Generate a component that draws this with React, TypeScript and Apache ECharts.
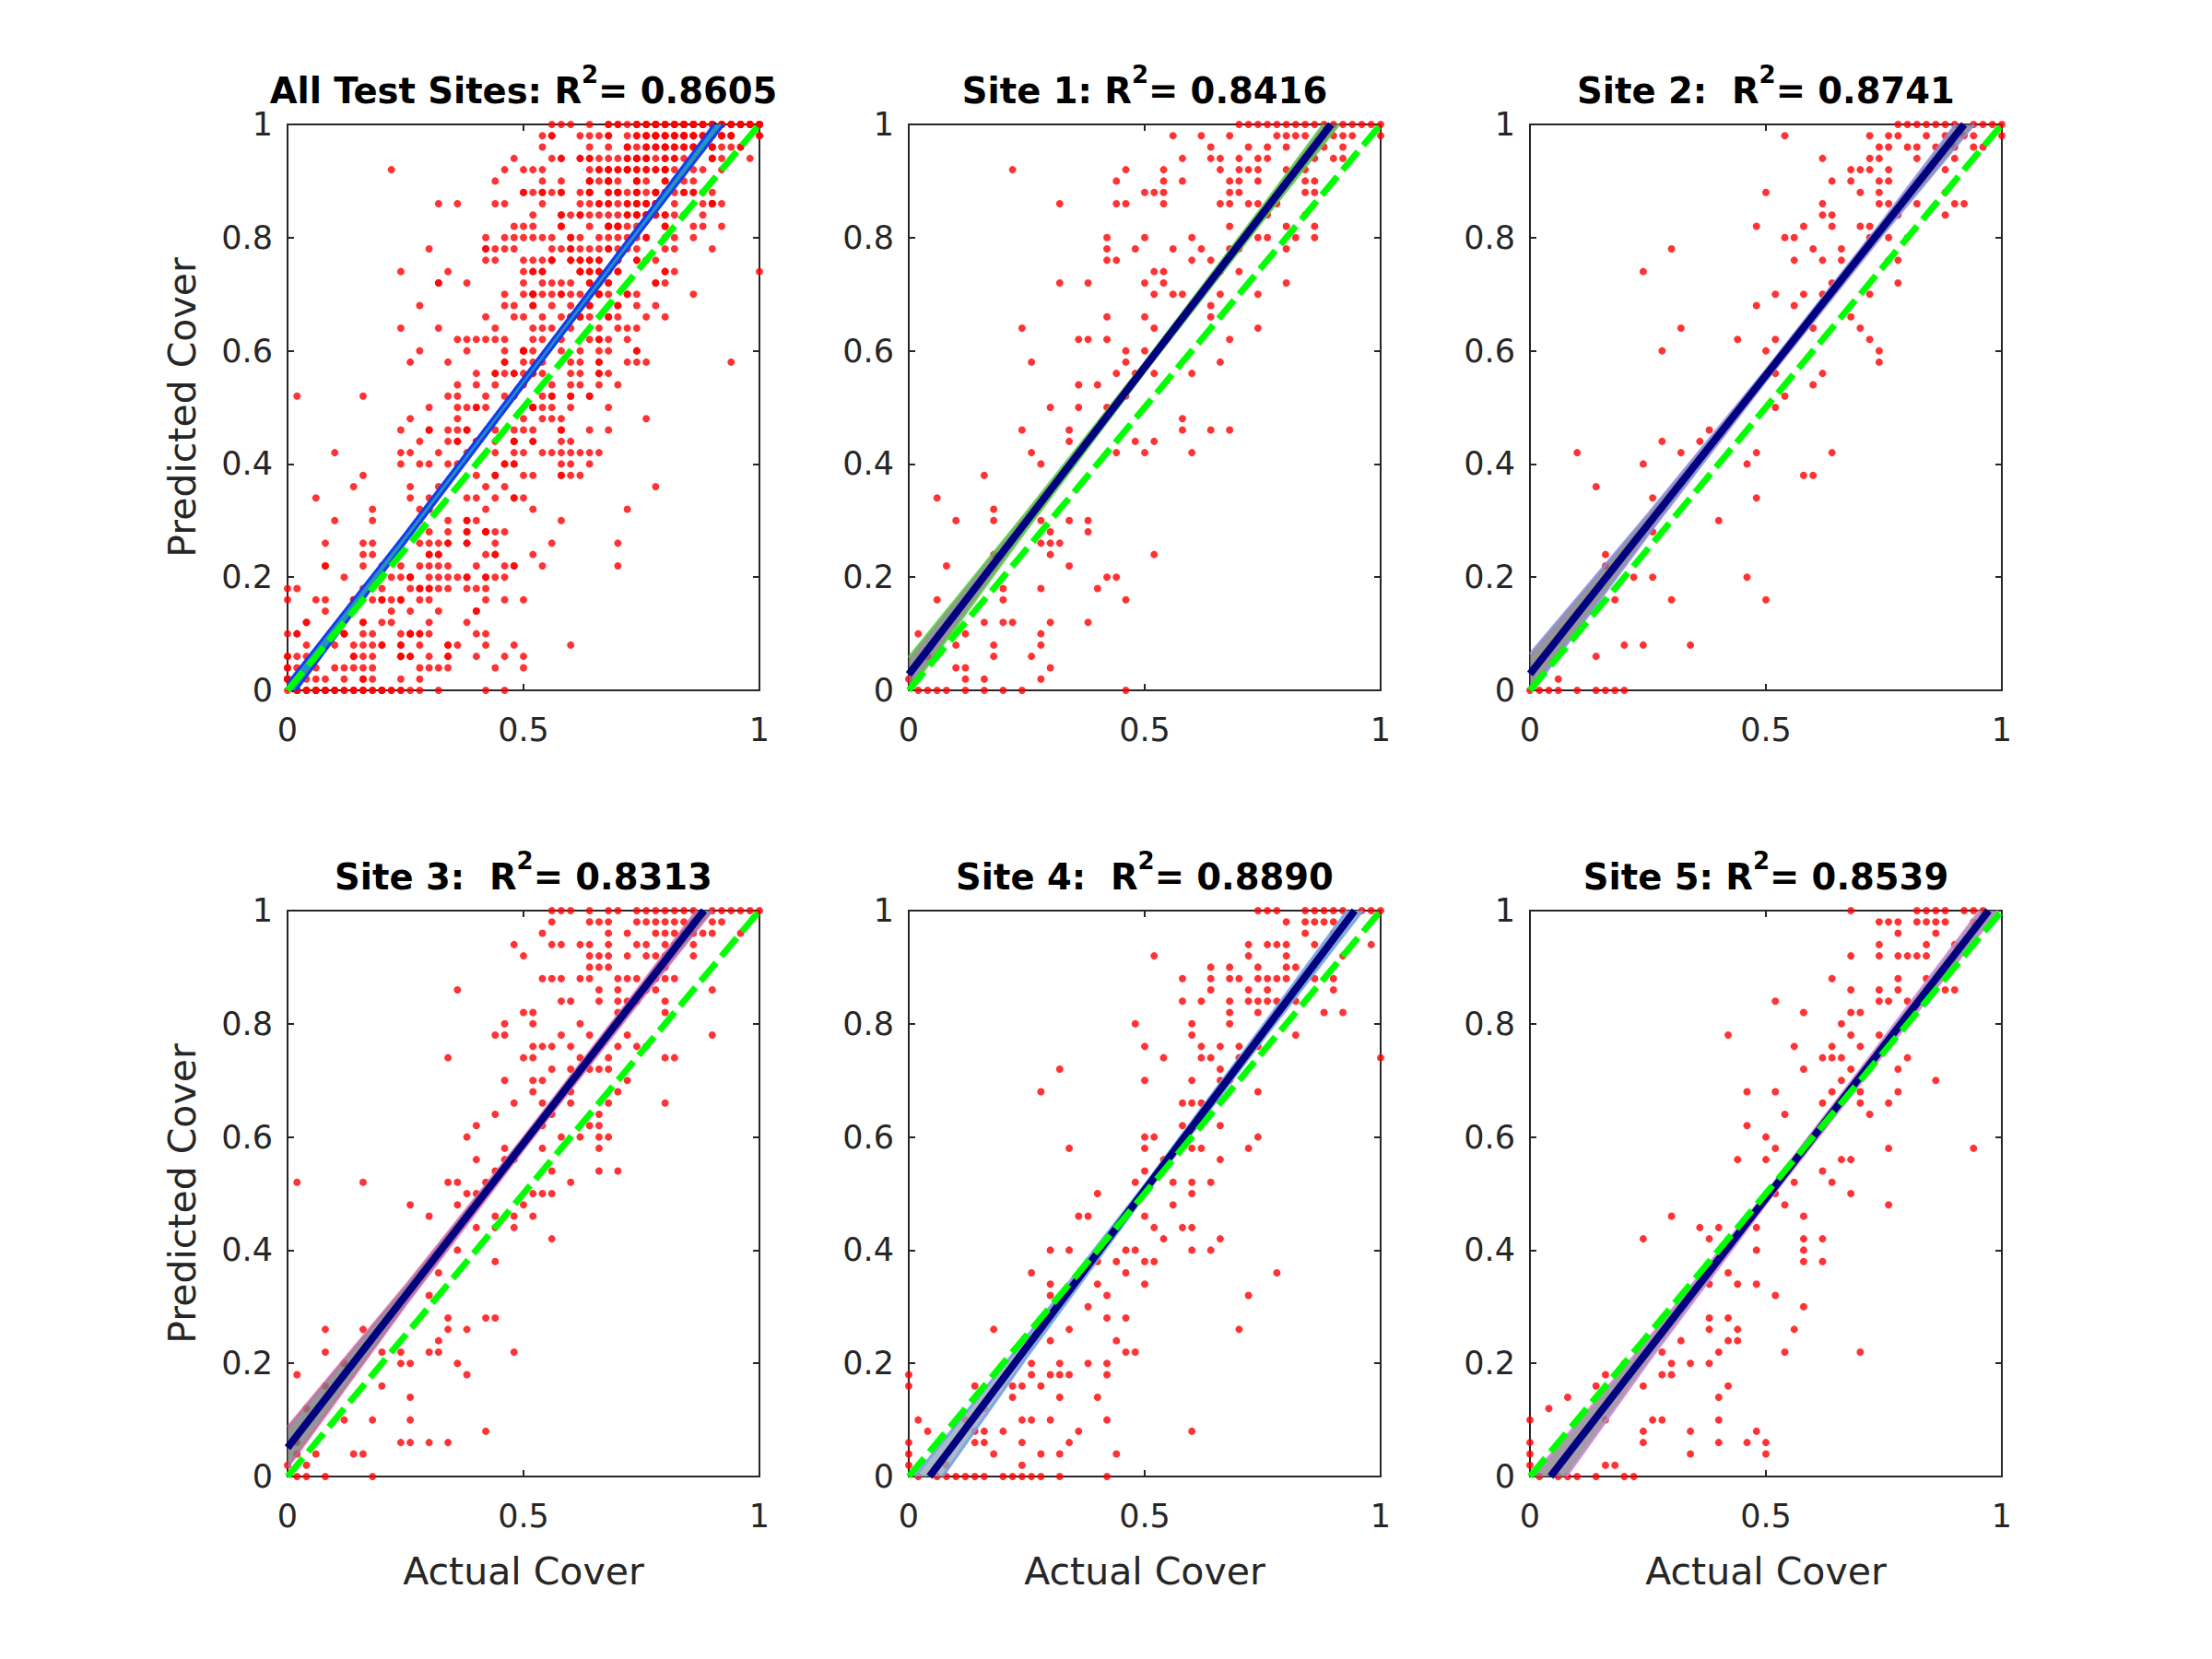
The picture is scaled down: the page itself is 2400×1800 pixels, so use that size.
import React, { useEffect, useRef } from "react";
import * as echarts from "echarts";

type Rows = [number, number[]][];

// ---- data (y value, list of x values on that row) ----
const site1Rows: Rows = [
  [1.0, [0.7, 0.72, 0.74, 0.76, 0.78, 0.8, 0.82, 0.84, 0.86, 0.88, 0.9, 0.92, 0.94, 0.96, 0.98, 1.0]],
  [0.98, [0.56, 0.62, 0.68, 0.78, 0.8, 0.82, 0.84, 0.9, 0.92, 0.94, 1.0]],
  [0.96, [0.64, 0.72, 0.76, 0.8, 0.88, 0.92]],
  [0.94, [0.58, 0.64, 0.66, 0.7, 0.74, 0.76, 0.86, 0.9, 0.92]],
  [0.92, [0.22, 0.46, 0.54, 0.66, 0.7, 0.72, 0.74, 0.8, 0.84]],
  [0.9, [0.44, 0.54, 0.58, 0.68, 0.7, 0.74, 0.84, 0.86]],
  [0.88, [0.5, 0.52, 0.54, 0.68, 0.7, 0.84, 0.86]],
  [0.86, [0.32, 0.44, 0.46, 0.54, 0.66, 0.68, 0.72, 0.74, 0.78]],
  [0.84, [0.76, 0.84]],
  [0.82, [0.68, 0.8, 0.86]],
  [0.8, [0.42, 0.5, 0.6, 0.74, 0.76, 0.82, 0.86]],
  [0.78, [0.42, 0.48, 0.56, 0.62, 0.68, 0.7, 0.8]],
  [0.76, [0.42, 0.44, 0.6, 0.64]],
  [0.74, [0.52, 0.54, 0.66, 0.7]],
  [0.72, [0.32, 0.38, 0.5, 0.54, 0.8]],
  [0.7, [0.52, 0.56, 0.58, 0.66, 0.74]],
  [0.68, [0.64]],
  [0.66, [0.42, 0.5, 0.64]],
  [0.64, [0.24, 0.52, 0.74]],
  [0.62, [0.36, 0.38, 0.42, 0.68]],
  [0.6, [0.46, 0.5]],
  [0.58, [0.26, 0.46, 0.66]],
  [0.56, [0.44, 0.48, 0.52, 0.6]],
  [0.54, [0.36, 0.4]],
  [0.52, [0.46]],
  [0.5, [0.3, 0.36, 0.42]],
  [0.48, [0.58]],
  [0.46, [0.24, 0.34, 0.58, 0.64, 0.68]],
  [0.44, [0.34, 0.48, 0.52]],
  [0.42, [0.26, 0.44, 0.5, 0.6]],
  [0.4, [0.28]],
  [0.38, [0.16]],
  [0.34, [0.06]],
  [0.32, [0.18]],
  [0.3, [0.1, 0.18, 0.28, 0.34, 0.38]],
  [0.28, [0.3, 0.38]],
  [0.26, [0.28, 0.3, 0.32]],
  [0.24, [0.18, 0.3, 0.52]],
  [0.22, [0.08, 0.34]],
  [0.2, [0.42, 0.44]],
  [0.18, [0.2, 0.28, 0.4]],
  [0.16, [0.06, 0.2, 0.46]],
  [0.12, [0.16, 0.2, 0.22, 0.3, 0.38]],
  [0.1, [0.02, 0.12, 0.28]],
  [0.08, [0.1, 0.18, 0.28]],
  [0.06, [0.04, 0.18, 0.26]],
  [0.04, [0.1, 0.12, 0.3]],
  [0.02, [0.0, 0.12, 0.16, 0.28]],
  [0.0, [0.02, 0.04, 0.06, 0.08, 0.12, 0.16, 0.2, 0.24, 0.46]],
];

const site2Rows: Rows = [
  [1.0, [0.78, 0.8, 0.82, 0.84, 0.86, 0.88, 0.9, 0.94, 0.96, 0.98, 1.0]],
  [0.98, [0.54, 0.72, 0.76, 0.78, 0.84, 0.88, 0.92, 0.94, 1.0]],
  [0.96, [0.74, 0.76, 0.8, 0.82, 0.86, 0.9, 0.94, 0.96]],
  [0.94, [0.62, 0.72, 0.74, 0.82, 0.9]],
  [0.92, [0.68, 0.7, 0.72, 0.76, 0.88]],
  [0.9, [0.64, 0.68, 0.74, 0.76]],
  [0.88, [0.5, 0.7, 0.74, 0.88]],
  [0.86, [0.62, 0.74, 0.76, 0.82, 0.9, 0.92]],
  [0.84, [0.62, 0.64, 0.78, 0.88]],
  [0.82, [0.48, 0.58, 0.64, 0.7, 0.72]],
  [0.8, [0.54, 0.56, 0.72, 0.76, 0.8]],
  [0.78, [0.3, 0.6, 0.66]],
  [0.76, [0.56, 0.62, 0.66, 0.76, 0.78]],
  [0.74, [0.24]],
  [0.72, [0.64, 0.78]],
  [0.7, [0.52, 0.58, 0.62, 0.72]],
  [0.68, [0.48, 0.56]],
  [0.66, [0.68]],
  [0.64, [0.32, 0.6, 0.7]],
  [0.62, [0.44, 0.52, 0.72]],
  [0.6, [0.28, 0.5, 0.74]],
  [0.58, [0.74]],
  [0.56, [0.52, 0.62]],
  [0.54, [0.6]],
  [0.52, [0.54]],
  [0.5, [0.52]],
  [0.46, [0.38]],
  [0.44, [0.28, 0.36]],
  [0.42, [0.1, 0.32, 0.48, 0.64]],
  [0.4, [0.24, 0.46]],
  [0.38, [0.58, 0.6]],
  [0.36, [0.14]],
  [0.34, [0.26, 0.48]],
  [0.32, [0.28]],
  [0.3, [0.4]],
  [0.28, [0.26]],
  [0.24, [0.16]],
  [0.22, [0.16]],
  [0.2, [0.22, 0.26, 0.46]],
  [0.16, [0.18, 0.3, 0.5]],
  [0.08, [0.2, 0.24, 0.34]],
  [0.06, [0.14]],
  [0.02, [0.06]],
  [0.0, [0.0, 0.02, 0.04, 0.06, 0.1, 0.14, 0.16, 0.18, 0.2]],
];

const site3Rows: Rows = [
  [1.0, [0.56, 0.58, 0.6, 0.64, 0.68, 0.7, 0.74, 0.76, 0.78, 0.8, 0.82, 0.84, 0.86, 0.9, 0.92, 0.94, 0.96, 0.98, 1.0]],
  [0.98, [0.56, 0.64, 0.66, 0.68, 0.74, 0.76, 0.78, 0.8, 0.82, 0.84, 0.86, 0.9, 0.92]],
  [0.96, [0.54, 0.68, 0.72, 0.78, 0.8, 0.82, 0.84, 0.86, 0.88, 0.9, 0.96]],
  [0.94, [0.48, 0.56, 0.58, 0.62, 0.64, 0.68, 0.74, 0.76, 0.8, 0.82, 0.86]],
  [0.92, [0.5, 0.64, 0.66, 0.68, 0.72, 0.76, 0.78, 0.8, 0.86]],
  [0.9, [0.64, 0.66, 0.68, 0.8]],
  [0.88, [0.54, 0.56, 0.58, 0.62, 0.64, 0.7, 0.72, 0.74, 0.78, 0.8, 0.82]],
  [0.86, [0.36, 0.66, 0.7, 0.76, 0.78, 0.9]],
  [0.84, [0.58, 0.6, 0.66, 0.7, 0.72, 0.74, 0.8]],
  [0.82, [0.5, 0.52, 0.7, 0.8]],
  [0.8, [0.46, 0.52, 0.62, 0.7]],
  [0.78, [0.44, 0.46, 0.58, 0.64, 0.72, 0.9]],
  [0.76, [0.52, 0.54, 0.56, 0.6, 0.7, 0.74, 0.76]],
  [0.74, [0.34, 0.5, 0.52, 0.62, 0.68, 0.8, 0.82]],
  [0.72, [0.56, 0.6, 0.64, 0.66, 0.68]],
  [0.7, [0.46, 0.52, 0.54, 0.72]],
  [0.68, [0.52, 0.6, 0.7]],
  [0.66, [0.48, 0.54, 0.6, 0.68, 0.8]],
  [0.64, [0.44, 0.56, 0.66]],
  [0.62, [0.4, 0.54, 0.64, 0.66]],
  [0.6, [0.38, 0.58, 0.62, 0.66, 0.68]],
  [0.58, [0.46, 0.54, 0.66]],
  [0.56, [0.4, 0.46, 0.48]],
  [0.54, [0.44, 0.56, 0.66, 0.7]],
  [0.52, [0.02, 0.16, 0.34, 0.36, 0.42, 0.6]],
  [0.5, [0.38, 0.4, 0.52, 0.54, 0.56]],
  [0.48, [0.26, 0.36, 0.5]],
  [0.46, [0.3, 0.44, 0.48, 0.52]],
  [0.44, [0.4, 0.44, 0.48]],
  [0.42, [0.56]],
  [0.4, [0.36]],
  [0.38, [0.44]],
  [0.36, [0.32]],
  [0.32, [0.3]],
  [0.28, [0.34, 0.42, 0.44]],
  [0.26, [0.08, 0.16, 0.34, 0.38]],
  [0.24, [0.32]],
  [0.22, [0.08, 0.2, 0.24, 0.3, 0.32, 0.48]],
  [0.2, [0.12, 0.24, 0.26, 0.36]],
  [0.18, [0.02, 0.38]],
  [0.16, [0.08, 0.2]],
  [0.14, [0.26]],
  [0.12, [0.04]],
  [0.1, [0.12, 0.18, 0.26]],
  [0.08, [0.42]],
  [0.06, [0.02, 0.24, 0.26, 0.3, 0.34]],
  [0.04, [0.02, 0.06, 0.14, 0.16]],
  [0.02, [0.0, 0.04]],
  [0.0, [0.02, 0.04, 0.08, 0.18]],
];

const site4Rows: Rows = [
  [1.0, [0.74, 0.76, 0.78, 0.84, 0.86, 0.88, 0.9, 0.92, 0.96, 0.98, 1.0]],
  [0.98, [0.8, 0.84, 0.86, 0.88, 0.9]],
  [0.96, [0.84, 0.9]],
  [0.94, [0.72, 0.76, 0.78, 0.8, 0.86, 0.98]],
  [0.92, [0.52, 0.72, 0.8, 0.92]],
  [0.9, [0.64, 0.68, 0.74, 0.8, 0.82]],
  [0.88, [0.58, 0.64, 0.68, 0.7, 0.74, 0.76, 0.78, 0.8, 0.86, 0.9]],
  [0.86, [0.64, 0.72, 0.76, 0.9]],
  [0.84, [0.58, 0.62, 0.68, 0.72, 0.74, 0.76, 0.78, 0.82]],
  [0.82, [0.68, 0.74, 0.88, 0.92]],
  [0.8, [0.48, 0.6, 0.68]],
  [0.78, [0.6, 0.82]],
  [0.76, [0.5, 0.62, 0.66, 0.7, 0.74]],
  [0.74, [0.54, 0.62, 0.64, 0.7, 1.0]],
  [0.72, [0.32, 0.66]],
  [0.7, [0.5, 0.6, 0.66, 0.68]],
  [0.68, [0.28, 0.74]],
  [0.66, [0.58, 0.6, 0.62]],
  [0.62, [0.58, 0.66]],
  [0.6, [0.5, 0.52, 0.74]],
  [0.58, [0.34, 0.5, 0.6, 0.62, 0.72]],
  [0.56, [0.54, 0.66]],
  [0.54, [0.5]],
  [0.52, [0.48, 0.56, 0.6, 0.64]],
  [0.5, [0.4, 0.6]],
  [0.48, [0.56]],
  [0.46, [0.36, 0.38, 0.5]],
  [0.44, [0.52, 0.58, 0.6]],
  [0.42, [0.54, 0.66]],
  [0.4, [0.3, 0.34, 0.46, 0.48, 0.6, 0.64]],
  [0.38, [0.4, 0.44, 0.5, 0.52]],
  [0.36, [0.26, 0.46, 0.78]],
  [0.34, [0.3, 0.4, 0.5]],
  [0.32, [0.3, 0.42, 0.72]],
  [0.3, [0.38]],
  [0.28, [0.42, 0.46]],
  [0.26, [0.18, 0.34, 0.7]],
  [0.24, [0.3, 0.44]],
  [0.22, [0.46, 0.48]],
  [0.2, [0.26, 0.32, 0.38, 0.42]],
  [0.18, [0.0, 0.26, 0.3, 0.32, 0.34, 0.42]],
  [0.16, [0.0, 0.14, 0.22, 0.24, 0.28]],
  [0.14, [0.22, 0.32, 0.4]],
  [0.12, [0.16]],
  [0.1, [0.02, 0.12, 0.24, 0.26, 0.3, 0.42]],
  [0.08, [0.04, 0.14, 0.16, 0.2, 0.36, 0.6]],
  [0.06, [0.0, 0.14, 0.16, 0.24, 0.34]],
  [0.04, [0.0, 0.18, 0.28, 0.32, 0.44]],
  [0.02, [0.0, 0.08, 0.24]],
  [0.0, [0.02, 0.06, 0.08, 0.1, 0.12, 0.14, 0.16, 0.2, 0.22, 0.24, 0.26, 0.28, 0.32, 0.42]],
];

const site5Rows: Rows = [
  [1.0, [0.68, 0.82, 0.84, 0.86, 0.88, 0.92, 0.94, 0.96]],
  [0.98, [0.74, 0.76, 0.78, 0.82, 0.84, 0.86, 0.88, 0.94]],
  [0.96, [0.78, 0.86]],
  [0.94, [0.74, 0.84, 0.9]],
  [0.92, [0.68, 0.74, 0.78, 0.8, 0.82, 0.84]],
  [0.88, [0.64, 0.78, 0.84]],
  [0.86, [0.68, 0.74, 0.78, 0.88, 0.9]],
  [0.84, [0.52, 0.74, 0.76, 0.8]],
  [0.82, [0.58, 0.68, 0.7]],
  [0.8, [0.66]],
  [0.78, [0.42, 0.68, 0.74]],
  [0.76, [0.56, 0.64, 0.7]],
  [0.74, [0.62, 0.64, 0.66, 0.8]],
  [0.72, [0.58, 0.68, 0.78]],
  [0.7, [0.66, 0.86]],
  [0.68, [0.46, 0.52, 0.64, 0.7, 0.78]],
  [0.66, [0.62, 0.7, 0.76]],
  [0.64, [0.54, 0.72]],
  [0.62, [0.46]],
  [0.6, [0.5]],
  [0.58, [0.52, 0.76, 0.94]],
  [0.56, [0.44, 0.5, 0.66, 0.68]],
  [0.54, [0.62]],
  [0.52, [0.56, 0.64]],
  [0.5, [0.52, 0.68]],
  [0.48, [0.54, 0.76]],
  [0.46, [0.3, 0.58]],
  [0.44, [0.36, 0.4, 0.48]],
  [0.42, [0.24, 0.38, 0.58, 0.62]],
  [0.4, [0.48, 0.58]],
  [0.38, [0.58, 0.62]],
  [0.36, [0.42]],
  [0.34, [0.38, 0.44, 0.48]],
  [0.32, [0.52]],
  [0.3, [0.58]],
  [0.28, [0.38, 0.42]],
  [0.26, [0.38, 0.44, 0.56]],
  [0.24, [0.32, 0.42, 0.44]],
  [0.22, [0.28, 0.4, 0.54, 0.7]],
  [0.2, [0.2, 0.3, 0.34, 0.38]],
  [0.18, [0.16, 0.28, 0.3]],
  [0.16, [0.14, 0.24, 0.42]],
  [0.14, [0.08, 0.4]],
  [0.12, [0.04]],
  [0.1, [0.0, 0.16, 0.26, 0.28, 0.4]],
  [0.08, [0.24, 0.34, 0.48]],
  [0.06, [0.0, 0.24, 0.4, 0.46, 0.5]],
  [0.04, [0.0, 0.34, 0.5]],
  [0.02, [0.0, 0.16, 0.18]],
  [0.0, [0.02, 0.06, 0.08, 0.1, 0.14, 0.2, 0.22]],
];

// titles (R² values)
const panelNames = ["All Test Sites: R", "Site 1: R", "Site 2:  R", "Site 3:  R", "Site 4:  R", "Site 5: R"];
const r2Values = ["0.8605", "0.8416", "0.8741", "0.8313", "0.8890", "0.8539"];

// fitted regression lines: [start, end] inside the [0,1] box
const fitAll = [[0.005, 0], [0.913, 1]];
const fitSite1 = [[0, 0.028], [0.895, 1]];
const fitSite2 = [[0, 0.029], [0.92, 1]];
const fitSite3 = [[0, 0.051], [0.8825, 1]];
const fitSite4 = [[0.044, 0], [0.945, 1]];
const fitSite5 = [[0.0435, 0], [0.972, 1]];

// confidence bands: [x, lower, upper]
const bandAll = [[0, -0.02, 0.012], [0.25, 0.262, 0.278], [0.5, 0.538, 0.552], [0.75, 0.812, 0.828], [0.95, 1.028, 1.052]];
const bandSite1 = [[0, -0.002, 0.058], [0.25, 0.285, 0.315], [0.5, 0.563, 0.579], [0.75, 0.83, 0.855], [0.95, 1.04, 1.08]];
const bandSite2 = [[0, -0.006, 0.064], [0.25, 0.275, 0.311], [0.5, 0.547, 0.566], [0.75, 0.808, 0.832], [0.95, 1.009, 1.053]];
const bandSite3 = [[0, 0.016, 0.087], [0.25, 0.303, 0.337], [0.5, 0.578, 0.599], [0.75, 0.844, 0.87], [0.95, 1.052, 1.092]];
const bandSite4 = [[0, -0.085, -0.013], [0.25, 0.211, 0.247], [0.5, 0.497, 0.515], [0.75, 0.772, 0.796], [1, 1.041, 1.081]];
const bandSite5 = [[0, -0.09, -0.005], [0.25, 0.202, 0.242], [0.5, 0.482, 0.5], [0.75, 0.748, 0.774], [1, 1.008, 1.052]];

// 1:1 reference line
const identityLine = [[0, 0], [1, 1]];

const xTicks = { min: 0, max: 1, interval: 0.5 };
const yTicks = { min: 0, max: 1, interval: 0.2 };

// ---- layout / styles ----
const FONT = '"DejaVu Sans", Verdana, sans-serif';
const AX = "#262626";
const COL_LEFT = [312, 986, 1660];
const ROW_TOP = [135, 988];
const PW = 512;
const PH = 614;

const bandStyles = [
  { fill: "rgba(40,160,195,0.92)", edge: "rgba(20,60,240,1)", bandOnTop: true },
  { fill: "rgba(120,120,120,0.78)", edge: "rgba(90,200,70,0.85)", bandOnTop: false },
  { fill: "rgba(120,120,120,0.78)", edge: "rgba(140,140,225,0.85)", bandOnTop: false },
  { fill: "rgba(120,120,120,0.78)", edge: "rgba(205,95,165,0.75)", bandOnTop: false },
  { fill: "rgba(150,165,185,0.78)", edge: "rgba(110,160,230,0.85)", bandOnTop: false },
  { fill: "rgba(140,130,140,0.78)", edge: "rgba(205,135,210,0.85)", bandOnTop: false },
];

function expand(rows: Rows): number[][] {
  const out: number[][] = [];
  rows.forEach(([y, xs]) => xs.forEach((x) => out.push([x, y])));
  return out;
}

function clipPolygon(pts: number[][], x0: number, y0: number, x1: number, y1: number) {
  const edges = [
    (p: number[]) => p[0] >= x0,
    (p: number[]) => p[0] <= x1,
    (p: number[]) => p[1] >= y0,
    (p: number[]) => p[1] <= y1,
  ];
  const inter = [
    (a: number[], b: number[]) => { const t = (x0 - a[0]) / (b[0] - a[0]); return [x0, a[1] + t * (b[1] - a[1])]; },
    (a: number[], b: number[]) => { const t = (x1 - a[0]) / (b[0] - a[0]); return [x1, a[1] + t * (b[1] - a[1])]; },
    (a: number[], b: number[]) => { const t = (y0 - a[1]) / (b[1] - a[1]); return [a[0] + t * (b[0] - a[0]), y0]; },
    (a: number[], b: number[]) => { const t = (y1 - a[1]) / (b[1] - a[1]); return [a[0] + t * (b[0] - a[0]), y1]; },
  ];
  let out = pts;
  for (let e = 0; e < 4; e++) {
    const inp = out;
    out = [];
    if (!inp.length) break;
    for (let i = 0; i < inp.length; i++) {
      const cur = inp[i];
      const prev = inp[(i + inp.length - 1) % inp.length];
      const ci = edges[e](cur);
      const pi = edges[e](prev);
      if (ci) {
        if (!pi) out.push(inter[e](prev, cur));
        out.push(cur);
      } else if (pi) {
        out.push(inter[e](prev, cur));
      }
    }
  }
  return out;
}

function clipSegment(a: number[], b: number[], x0: number, y0: number, x1: number, y1: number) {
  let t0 = 0, t1 = 1;
  const dx = b[0] - a[0], dy = b[1] - a[1];
  const p = [-dx, dx, -dy, dy];
  const q = [a[0] - x0, x1 - a[0], a[1] - y0, y1 - a[1]];
  for (let i = 0; i < 4; i++) {
    if (p[i] === 0) {
      if (q[i] < 0) return null;
    } else {
      const r = q[i] / p[i];
      if (p[i] < 0) { if (r > t1) return null; if (r > t0) t0 = r; }
      else { if (r < t0) return null; if (r < t1) t1 = r; }
    }
  }
  return [a[0] + t0 * dx, a[1] + t0 * dy, a[0] + t1 * dx, a[1] + t1 * dy];
}

function buildOption() {
  const site1 = expand(site1Rows);
  const site2 = expand(site2Rows);
  const site3 = expand(site3Rows);
  const site4 = expand(site4Rows);
  const site5 = expand(site5Rows);
  const allSites = [...site1, ...site2, ...site3, ...site4, ...site5];
  const scatterData = [allSites, site1, site2, site3, site4, site5];
  const fits = [fitAll, fitSite1, fitSite2, fitSite3, fitSite4, fitSite5];
  const bands = [bandAll, bandSite1, bandSite2, bandSite3, bandSite4, bandSite5];

  const grid: any[] = [];
  const xAxis: any[] = [];
  const yAxis: any[] = [];
  const series: any[] = [];
  const title: any[] = [];
  const lineStyle = { color: AX, width: 2 };

  for (let i = 0; i < 6; i++) {
    const row = Math.floor(i / 3);
    const col = i % 3;
    const left = COL_LEFT[col];
    const top = ROW_TOP[row];
    grid.push({ left, top, width: PW, height: PH, outerBoundsMode: "none", containLabel: false });

    title.push({
      text: `${panelNames[i]}{sup|2}= ${r2Values[i]}`,
      left: left + PW / 2,
      top: top - 67,
      textAlign: "center",
      padding: 0,
      textStyle: {
        fontFamily: FONT,
        fontSize: 38.5,
        fontWeight: "bold",
        color: "#000",
        lineHeight: 60,
        rich: {
          sup: { fontFamily: FONT, fontSize: 26, fontWeight: "bold", color: "#000", lineHeight: 26, verticalAlign: "top" },
        },
      },
    });

    const common = {
      gridIndex: i,
      type: "value",
      splitLine: { show: false },
      axisLine: { show: true, onZero: false, lineStyle },
      axisTick: { show: true, inside: true, length: 7, lineStyle },
    };
    xAxis.push({
      ...common,
      ...xTicks,
      position: "bottom",
      axisLabel: { show: true, fontFamily: FONT, fontSize: 35, color: AX, margin: 25 },
      name: row === 1 ? "Actual Cover" : "",
      nameLocation: "middle",
      nameGap: 82,
      nameTextStyle: { fontFamily: FONT, fontSize: 41, color: AX },
    });
    xAxis.push({ ...common, ...xTicks, position: "top", axisLabel: { show: false } });
    yAxis.push({
      ...common,
      ...yTicks,
      position: "left",
      axisLabel: { show: true, fontFamily: FONT, fontSize: 35, color: AX, margin: 16 },
      name: col === 0 ? "Predicted Cover" : "",
      nameLocation: "middle",
      nameGap: 94,
      nameTextStyle: { fontFamily: FONT, fontSize: 41, color: AX },
    });
    yAxis.push({ ...common, ...yTicks, position: "right", axisLabel: { show: false } });

    const xi = 2 * i;
    const yi = 2 * i;
    const st = bandStyles[i];

    series.push({
      type: "scatter",
      xAxisIndex: xi,
      yAxisIndex: yi,
      data: scatterData[i],
      symbol: "circle",
      symbolSize: 8,
      itemStyle: { color: "#ff0000" },
      z: 1,
      silent: true,
    });

    const band = bands[i];
    series.push({
      type: "custom",
      xAxisIndex: xi,
      yAxisIndex: yi,
      data: [[0.5, 0.5]],
      z: st.bandOnTop ? 4 : 2,
      silent: true,
      renderItem: (params: any, api: any) => {
        const cs = params.coordSys;
        const x0 = cs.x, y0 = cs.y, x1 = cs.x + cs.width, y1 = cs.y + cs.height;
        const lo = band.map((k) => api.coord([k[0], k[1]]));
        const hi = band.map((k) => api.coord([k[0], k[2]]));
        const poly = clipPolygon([...lo, ...hi.slice().reverse()], x0, y0, x1, y1);
        const children: any[] = [];
        if (poly.length > 2) {
          children.push({ type: "polygon", shape: { points: poly }, style: { fill: st.fill } });
        }
        [lo, hi].forEach((edge) => {
          for (let k = 0; k < edge.length - 1; k++) {
            const s = clipSegment(edge[k], edge[k + 1], x0, y0, x1, y1);
            if (s) {
              children.push({
                type: "line",
                shape: { x1: s[0], y1: s[1], x2: s[2], y2: s[3] },
                style: { stroke: st.edge, lineWidth: 3, fill: null },
              });
            }
          }
        });
        return { type: "group", children };
      },
    });

    series.push({
      type: "line",
      xAxisIndex: xi,
      yAxisIndex: yi,
      data: fits[i],
      symbol: "none",
      lineStyle: { color: "#000080", width: 8 },
      z: 3,
      silent: true,
    });

    series.push({
      type: "line",
      xAxisIndex: xi,
      yAxisIndex: yi,
      data: identityLine,
      symbol: "none",
      lineStyle: { color: "#00ff00", width: 7, type: [26, 9] },
      z: 5,
      silent: true,
    });
  }

  return {
    animation: false,
    backgroundColor: "#ffffff",
    title,
    grid,
    xAxis,
    yAxis,
    series,
  };
}

export default function App() {
  const ref = useRef<HTMLDivElement>(null);
  useEffect(() => {
    document.body.style.margin = "0";
    if (!ref.current) return;
    const chart = echarts.init(ref.current, undefined, { renderer: "svg" });
    chart.setOption(buildOption() as any);
    return () => chart.dispose();
  }, []);
  return <div ref={ref} style={{ width: 2400, height: 1800, background: "#fff" }} />;
}
